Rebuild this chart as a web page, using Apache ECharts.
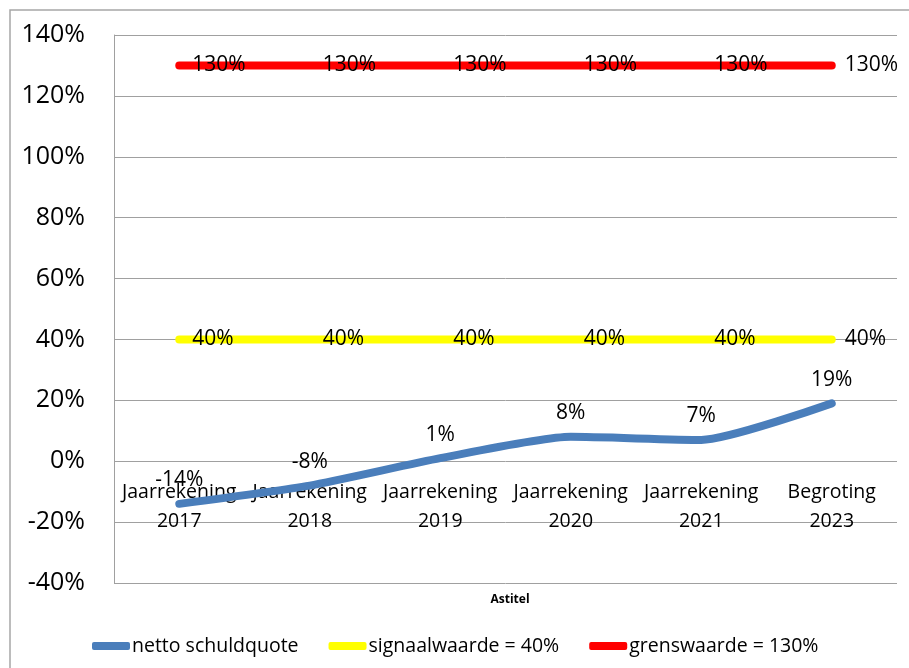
<!DOCTYPE html>
<html>
<head>
<meta charset="utf-8">
<script src="https://cdn.jsdelivr.net/npm/echarts@6/dist/echarts.min.js"></script>
<style>
  html, body { margin: 0; padding: 0; background: #fff; }
  #chart { width: 909px; height: 668px; }
</style>
</head>
<body>
<div id="chart"></div>
<script>
// categorieen en reeksen
var categories = ["Jaarrekening\n2017", "Jaarrekening\n2018", "Jaarrekening\n2019",
  "Jaarrekening\n2020", "Jaarrekening\n2021", "Begroting\n2023"];
var schuldquote = [-14, -8, 1, 8, 7, 19];
var signaalwaarde = [40, 40, 40, 40, 40, 40];
var grenswaarde = [130, 130, 130, 130, 130, 130];
var yTicks = { min: -40, max: 140, interval: 20 };

var fontFam = "'Open Sans', 'Noto Sans', sans-serif";
var chart = echarts.init(document.getElementById("chart"));

var sideLabel = {
  show: true,
  position: "right",
  distance: 13,
  color: "#000",
  fontSize: 21,
  fontFamily: fontFam,
  formatter: function (p) { return p.value + "%"; }
};

chart.setOption({
  animation: false,
  title: {
    text: "Astitel",
    left: 505,
    top: 589,
    textAlign: "center",
    textStyle: { fontSize: 12, fontWeight: "bold", color: "#000", fontFamily: fontFam }
  },
  graphic: [{
    type: "rect",
    shape: { x: 10, y: 10, width: 920, height: 700 },
    style: { fill: null, stroke: "#a6a6a6", lineWidth: 1.5 },
    silent: true
  }],
  legend: {
    left: 87,
    top: 631,
    itemGap: 30,
    itemWidth: 38,
    itemHeight: 8,
    icon: "roundRect",
    textStyle: { fontSize: 19.5, color: "#000", fontFamily: fontFam, padding: [0, 0, 0, -3] },
    data: ["netto schuldquote", "signaalwaarde = 40%", "grenswaarde = 130%"]
  },
  grid: { left: 114, right: 12, top: 35, bottom: 85 },
  xAxis: {
    type: "category",
    data: categories,
    boundaryGap: true,
    offset: -122,
    axisLine: { show: false },
    axisTick: { show: false },
    axisLabel: {
      color: "#000",
      fontSize: 19.5,
      fontFamily: fontFam,
      lineHeight: 29,
      margin: 17,
      interval: 0
    }
  },
  yAxis: {
    type: "value",
    min: yTicks.min,
    max: yTicks.max,
    interval: yTicks.interval,
    axisLine: { show: true, lineStyle: { color: "#a0a0a0" } },
    axisTick: { show: false },
    splitLine: { lineStyle: { color: "#a0a0a0", width: 1 } },
    axisLabel: {
      color: "#000",
      fontSize: 25,
      fontFamily: fontFam,
      margin: 29,
      formatter: function (v) { return v + "%"; }
    }
  },
  series: [
    {
      name: "netto schuldquote",
      type: "line",
      data: schuldquote,
      smooth: 0.2,
      symbol: "circle",
      symbolSize: 0.1,
      lineStyle: { color: "#4a7ebb", width: 8, cap: "round" },
      itemStyle: { color: "#4a7ebb" },
      label: {
        show: true,
        position: "top",
        distance: 13,
        color: "#000",
        fontSize: 21,
        fontFamily: fontFam,
        formatter: function (p) { return p.value + "%"; }
      },
      z: 3
    },
    {
      name: "signaalwaarde = 40%",
      type: "line",
      data: signaalwaarde,
      symbol: "circle",
      symbolSize: 0.1,
      lineStyle: { color: "#ffff00", width: 8, cap: "round" },
      itemStyle: { color: "#ffff00" },
      label: sideLabel
    },
    {
      name: "grenswaarde = 130%",
      type: "line",
      data: grenswaarde,
      symbol: "circle",
      symbolSize: 0.1,
      lineStyle: { color: "#ff0000", width: 8, cap: "round" },
      itemStyle: { color: "#ff0000" },
      label: sideLabel
    }
  ]
});
</script>
</body>
</html>
